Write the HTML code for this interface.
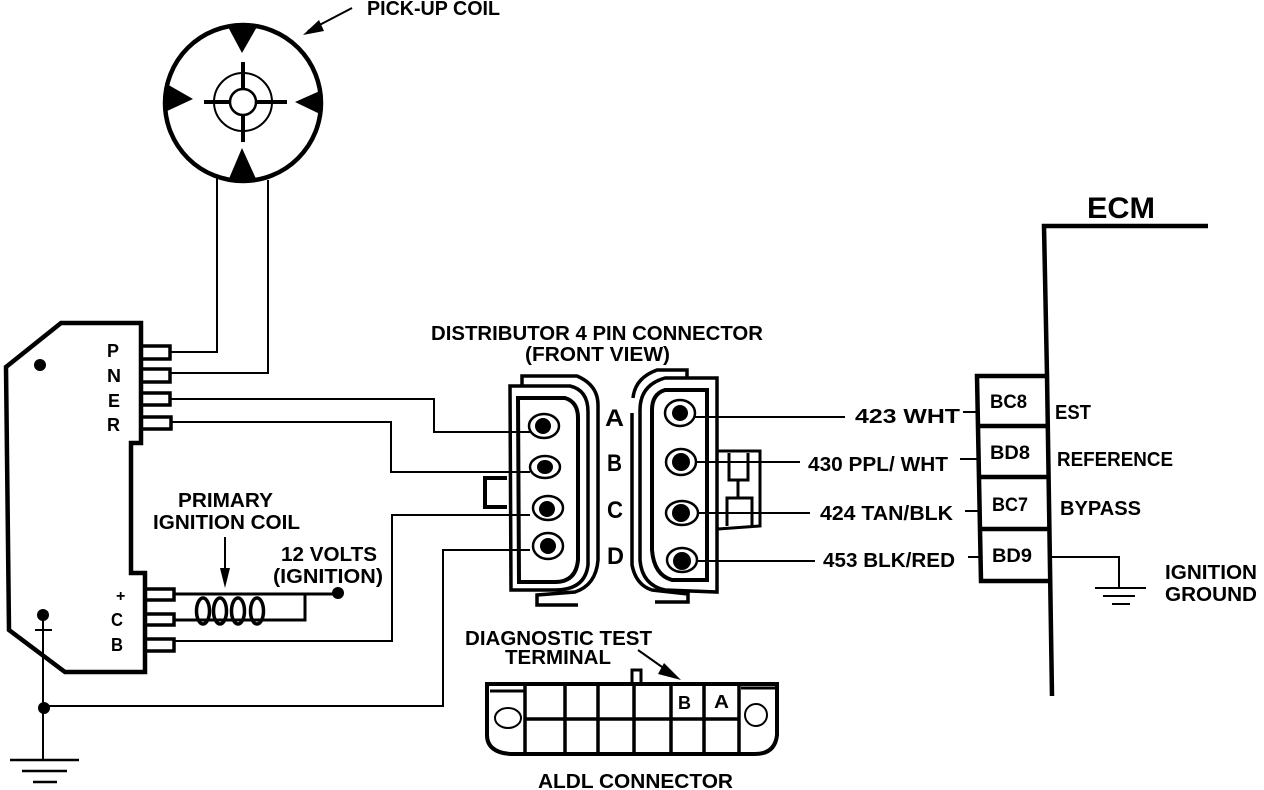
<!DOCTYPE html>
<html><head><meta charset="utf-8"><style>
html,body{margin:0;padding:0;background:#fff}
svg{display:block}
text{font-family:"Liberation Sans",sans-serif;font-weight:bold;fill:#000}
</style></head><body>
<svg width="1264" height="790" viewBox="0 0 1264 790" xmlns="http://www.w3.org/2000/svg">
<g fill="none" stroke="#000" stroke-width="2">
<!-- Pick-up coil -->
<circle cx="243" cy="103" r="78" stroke-width="4.5"/>
<circle cx="243" cy="102" r="29"/>
<circle cx="243" cy="102" r="13" stroke-width="2.5"/>
<path d="M243 62V89M243 115V142M204 102H230M256 102H287" stroke-width="4"/>
<path d="M217 178V352H170M268 180V373H170" stroke-width="2"/>
<path d="M352 8L308 31" stroke-width="2"/>
<!-- Module -->
<path d="M6 367L61 323H141V443H131V573H145V672H65L9 630Z" stroke-width="4.5"/>
<path d="M143 346H170V359H143M143 369H170V382H143M143 393H170V405H143M143 417H171V429H143" stroke-width="3.5"/>
<path d="M146 589H174V600H146M146 614H174V625H146M147 639H174V651H147" stroke-width="3.5"/>
<!-- Wires -->
<path d="M170 399H434V432H530M171 422H391V472H530M175 641H392V515H530M43 706H443V550H530"/>
<path d="M174 594H338M174 620H305V594" stroke-width="3"/>
<path d="M225 537V575"/>
<ellipse cx="203" cy="611" rx="6.5" ry="13" stroke-width="3.5"/>
<ellipse cx="220" cy="611" rx="6.5" ry="13" stroke-width="3.5"/>
<ellipse cx="238" cy="611" rx="6.5" ry="13" stroke-width="3.5"/>
<ellipse cx="257" cy="611" rx="6.5" ry="13" stroke-width="3.5"/>
<!-- Ground -->
<path d="M43 615V760M35 630H52"/>
<path d="M10 760H79M22 771H67M33 782H57" stroke-width="2.5"/>
<!-- Left connector -->
<path d="M510 386H570Q588 390 588 412V565Q585 590 555 590H511Z" stroke-width="3.5"/>
<path d="M522 385V376H577Q598 385 598 405V560Q596 585 575 592L537 595V605H578" stroke-width="3.5"/>
<path d="M518 398H565Q578 402 578 418V560Q576 582 555 582H519Z" stroke-width="4"/>
<path d="M507 478H485V507H507" stroke-width="4"/>
<!-- Right connector -->
<path d="M717 378H665Q640 385 640 410V560Q642 585 665 590L717 592Z" stroke-width="3.5"/>
<path d="M687 377V370H657Q635 378 633 398M632 413V565Q636 585 652 590L688 594V602H655" stroke-width="3.5"/>
<path d="M707 390H665Q652 394 652 410V550Q654 575 672 580H707Z" stroke-width="4"/>
<path d="M718 451H760V526L718 529" stroke-width="3"/>
<path d="M729 453V480H748V453M738 480V497M727 526V498H752V526" stroke-width="3"/>
<path d="M695 417H845M696 462H800M698 513H810M697 561H815"/>
<path d="M963 412H976M960 459H977M965 511H979M968 557H981"/>
<!-- ECM -->
<path d="M1208 226H1044L1047 375L1052 696" stroke-width="4.5"/>
<path d="M1046 376H977L981 581H1050M978 426H1048M979 477H1049M980 529H1050" stroke-width="4.5"/>
<path d="M1052 557H1119V588"/>
<path d="M1095 588H1146M1103 596H1135M1112 604H1130"/>
<!-- ALDL -->
<path d="M487 684H777V735Q775 754 755 754H510Q487 752 487 735Z" stroke-width="4"/>
<path d="M632 683V670H641V683" stroke-width="3"/>
<path d="M525 684V754M565 684V754M598 684V754M634 684V754M671 684V754M704 684V754M739 684V754M525 719H739" stroke-width="3.5"/>
<path d="M490 691H525M741 688H775" stroke-width="3"/>
<ellipse cx="508" cy="718" rx="13" ry="10"/>
<ellipse cx="756" cy="715" rx="11" ry="11"/>
<path d="M638 650L672 674"/>
</g>
<g fill="#000" stroke="none">
<path d="M227 25H258L242 53Z"/>
<path d="M165 83L193 99L165 112Z"/>
<path d="M322 90L295 102L322 115Z"/>
<path d="M228 181H257L242 148Z"/>
<path d="M303 35L319 20L324 31Z"/>
<path d="M225 588L220 568H230Z"/>
<path d="M681 680L664 663L658 674Z"/>
<circle cx="40" cy="365" r="6"/>
<circle cx="338" cy="593" r="6"/>
<circle cx="43" cy="615" r="6"/>
<circle cx="44" cy="708" r="6"/>
</g>
<!-- Pins -->
<g fill="#fff" stroke="#000" stroke-width="2.5">
<ellipse cx="544" cy="426" rx="15" ry="12"/>
<ellipse cx="545" cy="467" rx="15" ry="11"/>
<ellipse cx="548" cy="508" rx="15" ry="12"/>
<ellipse cx="548" cy="546" rx="15" ry="13"/>
<ellipse cx="680" cy="413" rx="15" ry="13"/>
<ellipse cx="681" cy="462" rx="15" ry="13"/>
<ellipse cx="682" cy="513" rx="16" ry="12"/>
<ellipse cx="682" cy="560" rx="15" ry="12"/>
</g>
<g fill="#000">
<circle cx="543" cy="426" r="8"/>
<ellipse cx="545" cy="467" rx="8" ry="7"/>
<circle cx="547" cy="509" r="8"/>
<circle cx="548" cy="546" r="8"/>
<circle cx="680" cy="413" r="8"/>
<circle cx="681" cy="462" r="9"/>
<circle cx="681" cy="513" r="9"/>
<circle cx="682" cy="561" r="9"/>
</g>
<!-- Text -->
<text x="367" y="15" font-size="20" textLength="133" lengthAdjust="spacingAndGlyphs">PICK-UP COIL</text>
<text x="107" y="357" font-size="18" textLength="12" lengthAdjust="spacingAndGlyphs">P</text>
<text x="107" y="382" font-size="18" textLength="14" lengthAdjust="spacingAndGlyphs">N</text>
<text x="108" y="407" font-size="18" textLength="12" lengthAdjust="spacingAndGlyphs">E</text>
<text x="107" y="431" font-size="18" textLength="13" lengthAdjust="spacingAndGlyphs">R</text>
<text x="116" y="601" font-size="16">+</text>
<text x="111" y="626" font-size="18" textLength="12" lengthAdjust="spacingAndGlyphs">C</text>
<text x="111" y="651" font-size="18" textLength="12" lengthAdjust="spacingAndGlyphs">B</text>
<text x="178" y="507" font-size="20" textLength="95" lengthAdjust="spacingAndGlyphs">PRIMARY</text>
<text x="153" y="529" font-size="20" textLength="147" lengthAdjust="spacingAndGlyphs">IGNITION COIL</text>
<text x="281" y="561" font-size="20" textLength="96" lengthAdjust="spacingAndGlyphs">12 VOLTS</text>
<text x="273" y="583" font-size="20" textLength="110" lengthAdjust="spacingAndGlyphs">(IGNITION)</text>
<text x="431" y="340" font-size="20" textLength="332" lengthAdjust="spacingAndGlyphs">DISTRIBUTOR 4 PIN CONNECTOR</text>
<text x="525" y="361" font-size="20" textLength="145" lengthAdjust="spacingAndGlyphs">(FRONT VIEW)</text>
<text x="605" y="426" font-size="24" textLength="19" lengthAdjust="spacingAndGlyphs">A</text>
<text x="607" y="471" font-size="24" textLength="15" lengthAdjust="spacingAndGlyphs">B</text>
<text x="607" y="518" font-size="24" textLength="16" lengthAdjust="spacingAndGlyphs">C</text>
<text x="607" y="564" font-size="24" textLength="17" lengthAdjust="spacingAndGlyphs">D</text>
<text x="855" y="423" font-size="20" textLength="105" lengthAdjust="spacingAndGlyphs">423 WHT</text>
<text x="808" y="471" font-size="20" textLength="140" lengthAdjust="spacingAndGlyphs">430 PPL/ WHT</text>
<text x="820" y="520" font-size="20" textLength="133" lengthAdjust="spacingAndGlyphs">424 TAN/BLK</text>
<text x="823" y="567" font-size="20" textLength="132" lengthAdjust="spacingAndGlyphs">453 BLK/RED</text>
<text x="1087" y="218" font-size="30" textLength="68" lengthAdjust="spacingAndGlyphs">ECM</text>
<text x="990" y="408" font-size="19" textLength="37" lengthAdjust="spacingAndGlyphs">BC8</text>
<text x="990" y="459" font-size="19" textLength="40" lengthAdjust="spacingAndGlyphs">BD8</text>
<text x="992" y="511" font-size="19" textLength="36" lengthAdjust="spacingAndGlyphs">BC7</text>
<text x="992" y="562" font-size="19" textLength="40" lengthAdjust="spacingAndGlyphs">BD9</text>
<text x="1055" y="419" font-size="20" textLength="36" lengthAdjust="spacingAndGlyphs">EST</text>
<text x="1057" y="466" font-size="20" textLength="116" lengthAdjust="spacingAndGlyphs">REFERENCE</text>
<text x="1060" y="515" font-size="20" textLength="81" lengthAdjust="spacingAndGlyphs">BYPASS</text>
<text x="1165" y="579" font-size="20" textLength="92" lengthAdjust="spacingAndGlyphs">IGNITION</text>
<text x="1165" y="601" font-size="20" textLength="92" lengthAdjust="spacingAndGlyphs">GROUND</text>
<text x="465" y="645" font-size="20" textLength="187" lengthAdjust="spacingAndGlyphs">DIAGNOSTIC TEST</text>
<text x="505" y="664" font-size="20" textLength="106" lengthAdjust="spacingAndGlyphs">TERMINAL</text>
<text x="678" y="709" font-size="18" textLength="13" lengthAdjust="spacingAndGlyphs">B</text>
<text x="714" y="708" font-size="18" textLength="15" lengthAdjust="spacingAndGlyphs">A</text>
<text x="538" y="788" font-size="20" textLength="195" lengthAdjust="spacingAndGlyphs">ALDL CONNECTOR</text>
</svg>
</body></html>
